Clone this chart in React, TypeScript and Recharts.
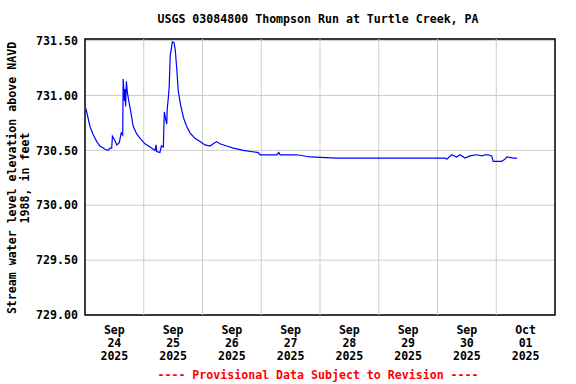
import React from 'react';
import {
  LineChart, Line, XAxis, YAxis, CartesianGrid, ReferenceLine, ReferenceArea,
} from 'recharts';

// hours since Sep 24 2025 00:00
const hours = [
  0.4, 2.0, 3.4, 4.8, 6.1, 8.2, 9.5, 10.2, 10.9, 11.2, 12.0, 13.0, 14.0, 14.8, 15.4,
  15.6, 16.1, 16.3, 16.6, 16.9, 17.3, 17.9, 18.7, 19.7, 21.1, 22.5, 24.5, 26.6, 28.6,
  29.0, 29.3, 30.6, 31.2, 32.0, 32.4, 33.0, 33.4, 33.6, 34.0, 34.4, 34.8, 35.7, 36.4,
  36.9, 37.5, 38.1, 39.1, 40.2, 41.5, 42.9, 44.9, 47.0, 49.0, 51.1, 52.4, 53.8, 55.1,
  57.9, 60.6, 64.7, 70.8, 71.5, 78.3, 79.2, 79.7, 86.5, 91.9, 102.8, 113.0, 147.1,
  147.8, 149.8, 151.8, 153.2, 155.2, 157.3, 160.0, 162.1, 163.4, 164.7, 166.1, 166.8,
  170.2, 171.6, 172.3, 175.0, 176.5,
];

// stage, feet above NAVD 1988
const stage = [
  730.88, 730.72, 730.64, 730.58, 730.54, 730.51, 730.50, 730.52, 730.52, 730.63, 730.60,
  730.55, 730.57, 730.66, 730.64, 731.15, 730.95, 731.06, 730.90, 731.13, 731.03, 730.95,
  730.85, 730.72, 730.65, 730.61, 730.56, 730.53, 730.50, 730.55, 730.49, 730.48, 730.54,
  730.53, 730.85, 730.78, 730.74, 730.88, 730.97, 731.08, 731.36, 731.49, 731.48, 731.41,
  731.24, 731.04, 730.91, 730.80, 730.72, 730.66, 730.61, 730.58, 730.55, 730.54, 730.56,
  730.58, 730.56, 730.54, 730.52, 730.50, 730.48, 730.46, 730.46, 730.48, 730.46, 730.46,
  730.44, 730.43, 730.43, 730.43, 730.42, 730.46, 730.44, 730.46, 730.43, 730.45, 730.46,
  730.45, 730.46, 730.46, 730.45, 730.40, 730.40, 730.42, 730.44, 730.43, 730.43,
];

const dayTicks = [12, 36, 60, 84, 108, 132, 156, 180];
const dayLabels = [
  ['Sep', '24', '2025'], ['Sep', '25', '2025'], ['Sep', '26', '2025'], ['Sep', '27', '2025'],
  ['Sep', '28', '2025'], ['Sep', '29', '2025'], ['Sep', '30', '2025'], ['Oct', '01', '2025'],
];
const midnights = [24, 48, 72, 96, 120, 144, 168];
const yTicks = [729, 729.5, 730, 730.5, 731, 731.5];

const data = hours.map((h, i) => ({ h, v: stage[i] }));

const FONT = '"DejaVu Sans Mono", "Liberation Mono", monospace';

const DayTick = ({ x, y, payload }: any) => {
  const idx = dayTicks.indexOf(payload.value);
  const lines = dayLabels[idx] || [];
  return (
    <text x={x} y={y} textAnchor="middle" fontFamily={FONT} fontWeight="bold" fontSize={11.6} fill="#000">
      {lines.map((s, i) => (
        <tspan key={i} x={x} dy={i === 0 ? 11 : 13}>{s}</tspan>
      ))}
    </text>
  );
};

const YLabel = () => (
  <text transform="translate(16,178) rotate(-90)" textAnchor="middle" fontFamily={FONT} fontWeight="bold" fontSize={11.6} fill="#000">
    <tspan x={0} dy={0}>Stream water level elevation above NAVD</tspan>
    <tspan x={0} dy={13}>1988, in feet</tspan>
  </text>
);

export default function App() {
  return (
    <div style={{ position: 'absolute', left: 0, top: 0, width: 576, height: 384, background: '#fff', fontFamily: FONT }}>
      <div style={{ position: 'absolute', left: 0, width: 636, top: 12, textAlign: 'center', fontWeight: 'bold', fontSize: 11.6, lineHeight: '14px' }}>
        USGS 03084800 Thompson Run at Turtle Creek, PA
      </div>
      <LineChart width={576} height={384} data={data} margin={{ top: 39, right: 21, bottom: 0, left: 25 }}>
        <CartesianGrid vertical={false} stroke="#cccccc" strokeWidth={1} />
        {midnights.map((m) => (
          <ReferenceLine key={m} x={m} stroke="#cccccc" strokeWidth={1} />
        ))}
        <XAxis
          dataKey="h"
          type="number"
          domain={[0, 192]}
          ticks={dayTicks}
          tick={<DayTick />}
          tickLine={false}
          axisLine={false}
          height={69}
          interval={0}
        />
        <YAxis
          type="number"
          domain={[729, 731.515]}
          ticks={yTicks}
          tickFormatter={(v: number) => v.toFixed(2)}
          tick={{ fontFamily: FONT, fontWeight: 'bold', fontSize: 11.6, fill: '#000' }}
          tickLine={false}
          axisLine={false}
          tickSize={0}
          tickMargin={7}
          width={60}
          label={<YLabel />}
        />
        <ReferenceArea x1={0} x2={192} y1={729} y2={731.515} fill="none" stroke="#000" strokeWidth={1.5} fillOpacity={0} ifOverflow="visible" />
        <Line type="linear" dataKey="v" stroke="#0000ff" strokeWidth={1.2} dot={false} isAnimationActive={false} />
      </LineChart>
      <div style={{ position: 'absolute', left: 0, width: 636, top: 368, textAlign: 'center', fontWeight: 'bold', fontSize: 11.6, lineHeight: '14px', color: '#ff0000' }}>
        ---- Provisional Data Subject to Revision ----
      </div>
    </div>
  );
}
